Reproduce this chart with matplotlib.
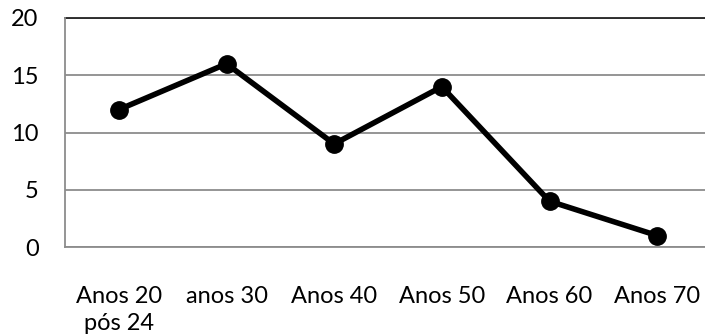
import matplotlib
matplotlib.use("Agg")
import matplotlib.pyplot as plt

# décadas e contagens
categorias = ["Anos 20\npós 24", "anos 30", "Anos 40", "Anos 50", "Anos 60", "Anos 70"]
valores = [12, 16, 9, 14, 4, 1]
yticks = [0, 5, 10, 15, 20]

plt.rcParams["font.family"] = ["Lato", "DejaVu Sans"]

fig = plt.figure(figsize=(7.05, 3.36), dpi=100)
ax = fig.add_axes([65 / 705, 1 - 247 / 336, (711 - 65) / 705, (247 - 18) / 336])

x = list(range(len(categorias)))
ax.plot(x, valores, "-o", color="black", lw=4, ms=12.5, zorder=3, clip_on=False)

ax.set_xlim(-0.5, len(categorias) - 0.5)
ax.set_ylim(0, 20)
ax.set_yticks(yticks)
ax.set_xticks(x)
ax.set_xticklabels(categorias, fontsize=17, linespacing=1.35)
ax.tick_params(axis="y", length=0, pad=19, labelsize=17)
ax.tick_params(axis="x", length=0, pad=28)

ax.grid(axis="y", color="#8c8c8c", lw=1.3)
ax.set_axisbelow(True)
for s in ["top", "right"]:
    ax.spines[s].set_visible(False)
ax.spines["left"].set_color("#8c8c8c")
ax.spines["bottom"].set_color("#8c8c8c")
ax.spines["left"].set_linewidth(1.3)
ax.spines["bottom"].set_linewidth(1.3)
ax.axhline(20, color="#222222", lw=1.3, clip_on=False)

fig.savefig("out.png", dpi=100)
